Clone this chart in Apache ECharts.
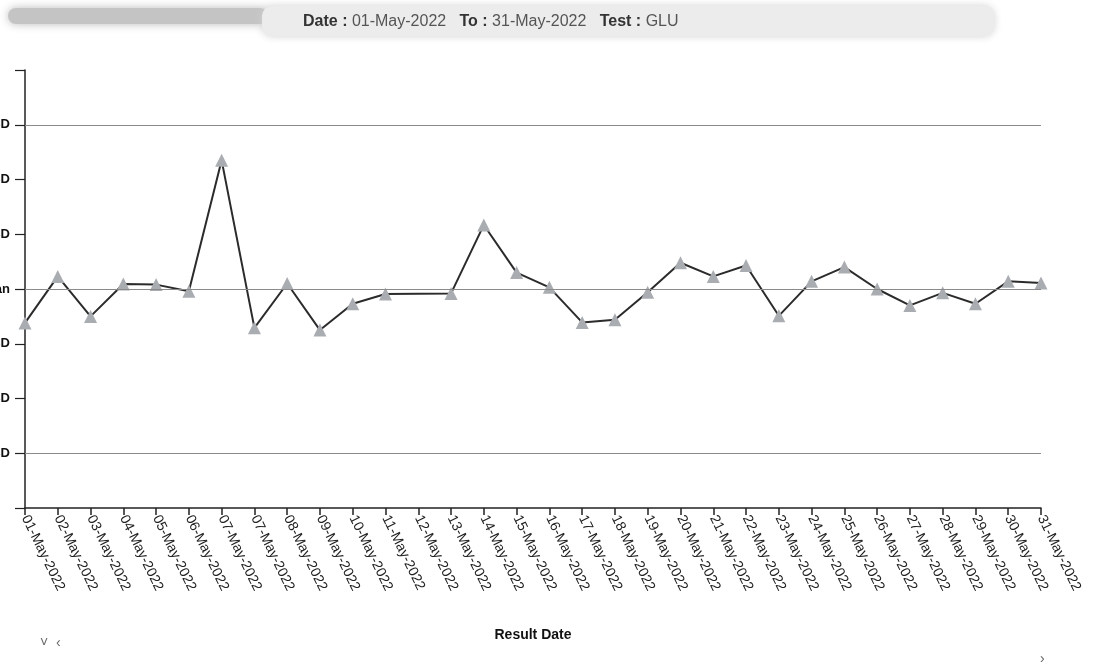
<!DOCTYPE html>
<html>
<head>
<meta charset="utf-8">
<script src="https://cdn.jsdelivr.net/npm/echarts@6/dist/echarts.min.js"></script>
<style>
  html, body { margin: 0; padding: 0; background: #fff; }
  #chart { width: 1108px; height: 671px; }
</style>
</head>
<body>
<div id="chart"></div>
<script>
// result dates (07-May appears twice on the original axis)
const dates = [
  '01-May-2022', '02-May-2022', '03-May-2022', '04-May-2022', '05-May-2022',
  '06-May-2022', '07-May-2022', '07-May-2022', '08-May-2022', '09-May-2022',
  '10-May-2022', '11-May-2022', '12-May-2022', '13-May-2022', '14-May-2022',
  '15-May-2022', '16-May-2022', '17-May-2022', '18-May-2022', '19-May-2022',
  '20-May-2022', '21-May-2022', '22-May-2022', '23-May-2022', '24-May-2022',
  '25-May-2022', '26-May-2022', '27-May-2022', '28-May-2022', '29-May-2022',
  '30-May-2022', '31-May-2022'
];
// QC result in SD units (null = no result that day)
const sdValues = [
  -0.62, 0.23, -0.50, 0.09, 0.08, -0.04, 2.35, -0.71, 0.10, -0.75,
  -0.27, -0.09, null, -0.08, 1.17, 0.30, 0.03, -0.61, -0.56, -0.06,
  0.48, 0.23, 0.43, -0.49, 0.14, 0.40, 0.00, -0.30, -0.07, -0.27,
  0.14, 0.11
];
const sdLevels = [-3, -2, -1, 0, 1, 2, 3];
const sdLabels = ['-3SD', '-2SD', '-1SD', 'Mean', '+1SD', '+2SD', '+3SD'];
const refLines = [3, 0, -3];

const chart = echarts.init(document.getElementById('chart'));

const option = {
  backgroundColor: '#fff',
  animation: false,
  graphic: [
    {
      type: 'rect', left: 8, top: 8,
      shape: { width: 260, height: 16, r: 8 },
      style: { fill: '#c4c4c4', shadowBlur: 10, shadowColor: '#bbb' }
    },
    {
      type: 'rect', left: 262, top: 6,
      shape: { width: 732, height: 30, r: 10 },
      style: { fill: '#ececec', shadowBlur: 8, shadowColor: '#d0d0d0' }
    },
    {
      type: 'text', left: 40, top: 636,
      style: { text: '˅  ‹', fill: '#666', font: '14px Arial' }
    },
    {
      type: 'text', left: 1040, top: 652,
      style: { text: '›', fill: '#666', font: '14px Arial' }
    }
  ],
  title: {
    text: '{b|Date :} 01-May-2022   {b|To :} 31-May-2022   {b|Test :} GLU',
    left: 298,
    top: 9,
    textStyle: {
      fontFamily: 'Arial',
      fontSize: 16,
      fontWeight: 'normal',
      color: '#555',
      rich: {
        b: { fontFamily: 'Arial', fontSize: 16, fontWeight: 'bold', color: '#333' }
      }
    }
  },
  grid: { left: 25, right: 67, top: 70, bottom: 163, containLabel: false, outerBoundsMode: 'none' },
  xAxis: {
    type: 'category',
    data: dates,
    boundaryGap: false,
    name: 'Result Date',
    nameLocation: 'middle',
    nameGap: 120,
    nameTextStyle: { fontFamily: 'Arial', fontSize: 14, fontWeight: 'bold', color: '#111' },
    axisLine: { onZero: false, lineStyle: { color: '#222', width: 1.5 } },
    axisTick: { show: true, length: 7, alignWithLabel: true, lineStyle: { color: '#222', width: 1.5 } },
    axisLabel: {
      interval: 0,
      rotate: -64,
      margin: 8,
      fontFamily: 'Arial',
      fontSize: 14,
      color: '#222'
    },
    splitLine: { show: false }
  },
  yAxis: {
    type: 'value',
    min: -4,
    max: 4,
    interval: 1,
    axisLine: { show: true, lineStyle: { color: '#222', width: 1.5 } },
    axisTick: { show: true, length: 10, lineStyle: { color: '#222', width: 1.2 } },
    axisLabel: {
      margin: 15,
      fontFamily: 'Arial',
      fontSize: 13,
      fontWeight: 'bold',
      color: '#111',
      formatter: v => {
        const i = sdLevels.indexOf(v);
        return i >= 0 ? sdLabels[i] : '';
      }
    },
    splitLine: { show: false }
  },
  series: [
    {
      type: 'line',
      data: sdValues,
      connectNulls: true,
      symbol: 'triangle',
      symbolSize: 13,
      showAllSymbol: true,
      lineStyle: { color: '#2b2b2b', width: 2 },
      itemStyle: { color: '#a9adb1', borderWidth: 0 },
      z: 3,
      markLine: {
        silent: true,
        symbol: 'none',
        label: { show: false },
        lineStyle: { color: '#8a8a8a', width: 1, type: 'solid' },
        data: refLines.map(v => ({ yAxis: v }))
      }
    }
  ]
};

chart.setOption(option);
</script>
</body>
</html>
